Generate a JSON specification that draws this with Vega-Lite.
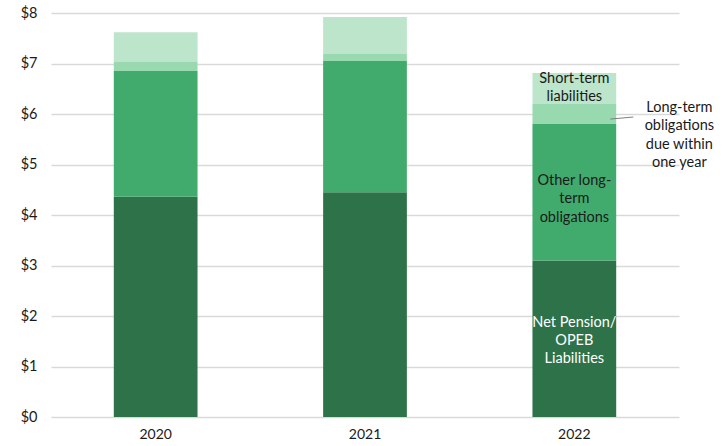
{
  "$schema": "https://vega.github.io/schema/vega-lite/v6.json",
  "width": 628,
  "height": 404,
  "autosize": {"type": "none"},
  "padding": {"left": 51, "top": 13, "right": 44, "bottom": 29},
  "background": "white",
  "config": {
    "view": {"stroke": null},
    "font": "Lato"
  },
  "datasets": {
    "bars": [
      {"year": "2020", "cat": "Net Pension/OPEB Liabilities", "ord": 1, "value": 4.36},
      {"year": "2020", "cat": "Other long-term obligations", "ord": 2, "value": 2.49},
      {"year": "2020", "cat": "Long-term obligations due within one year", "ord": 3, "value": 0.18},
      {"year": "2020", "cat": "Short-term liabilities", "ord": 4, "value": 0.59},
      {"year": "2021", "cat": "Net Pension/OPEB Liabilities", "ord": 1, "value": 4.45},
      {"year": "2021", "cat": "Other long-term obligations", "ord": 2, "value": 2.60},
      {"year": "2021", "cat": "Long-term obligations due within one year", "ord": 3, "value": 0.14},
      {"year": "2021", "cat": "Short-term liabilities", "ord": 4, "value": 0.73},
      {"year": "2022", "cat": "Net Pension/OPEB Liabilities", "ord": 1, "value": 3.10},
      {"year": "2022", "cat": "Other long-term obligations", "ord": 2, "value": 2.70},
      {"year": "2022", "cat": "Long-term obligations due within one year", "ord": 3, "value": 0.40},
      {"year": "2022", "cat": "Short-term liabilities", "ord": 4, "value": 0.61}
    ],
    "labels": [
      {"year": "2022", "y": 6.69, "text": ["Short-term", "liabilities"], "color": "#1a1a1a"},
      {"year": "2022", "y": 4.67, "text": ["Other long-", "term", "obligations"], "color": "#1a1a1a"},
      {"year": "2022", "y": 1.87, "text": ["Net Pension/", "OPEB", "Liabilities"], "color": "#ffffff"}
    ],
    "annot": [
      {"year": "2022", "y": 6.12, "text": ["Long-term", "obligations", "due within", "one year"]}
    ],
    "leader": [
      {"year": "2022", "y": 5.90, "y2": 5.94}
    ]
  },
  "layer": [
    {
      "data": {"name": "bars"},
      "mark": {"type": "bar"},
      "encoding": {
        "x": {
          "field": "year", "type": "ordinal",
          "scale": {"paddingInner": 0.6, "paddingOuter": 0.3},
          "axis": {
            "title": null, "labelAngle": 0, "domain": false, "ticks": false,
            "labelFontSize": 14, "labelColor": "#1a1a1a", "labelPadding": 10, "labelFont": "Lato"
          }
        },
        "y": {
          "field": "value", "type": "quantitative", "stack": "zero",
          "scale": {"domain": [0, 8], "nice": false},
          "axis": {
            "title": null, "values": [0, 1, 2, 3, 4, 5, 6, 7, 8],
            "labelExpr": "'$' + datum.value",
            "domain": false, "ticks": false,
            "grid": true, "gridColor": "#d9d9d9", "gridWidth": 1.5,
            "labelFontSize": 14.5, "labelColor": "#1a1a1a", "labelPadding": 14, "labelFont": "Lato"
          }
        },
        "color": {
          "field": "cat", "type": "nominal", "legend": null,
          "scale": {
            "domain": ["Net Pension/OPEB Liabilities", "Other long-term obligations", "Long-term obligations due within one year", "Short-term liabilities"],
            "range": ["#2e7249", "#41ab6d", "#98d9b0", "#bce5cb"]
          }
        },
        "order": {"field": "ord", "type": "quantitative"}
      }
    },
    {
      "data": {"name": "labels"},
      "mark": {"type": "text", "fontSize": 14.5, "lineHeight": 18.3, "align": "center", "baseline": "middle", "font": "Lato"},
      "encoding": {
        "x": {"field": "year", "type": "ordinal"},
        "y": {"field": "y", "type": "quantitative"},
        "text": {"field": "text"},
        "color": {"field": "color", "type": "nominal", "scale": null}
      }
    },
    {
      "data": {"name": "annot"},
      "mark": {"type": "text", "fontSize": 14.5, "lineHeight": 18.3, "align": "center", "baseline": "middle", "dx": 105, "color": "#1a1a1a", "font": "Lato"},
      "encoding": {
        "x": {"field": "year", "type": "ordinal"},
        "y": {"field": "y", "type": "quantitative"},
        "text": {"field": "text"}
      }
    },
    {
      "data": {"name": "leader"},
      "mark": {"type": "rule", "xOffset": 36, "x2Offset": 59, "color": "#7f7f7f", "strokeWidth": 1},
      "encoding": {
        "x": {"field": "year", "type": "ordinal"},
        "x2": {"field": "year"},
        "y": {"field": "y", "type": "quantitative"},
        "y2": {"field": "y2"}
      }
    }
  ]
}
